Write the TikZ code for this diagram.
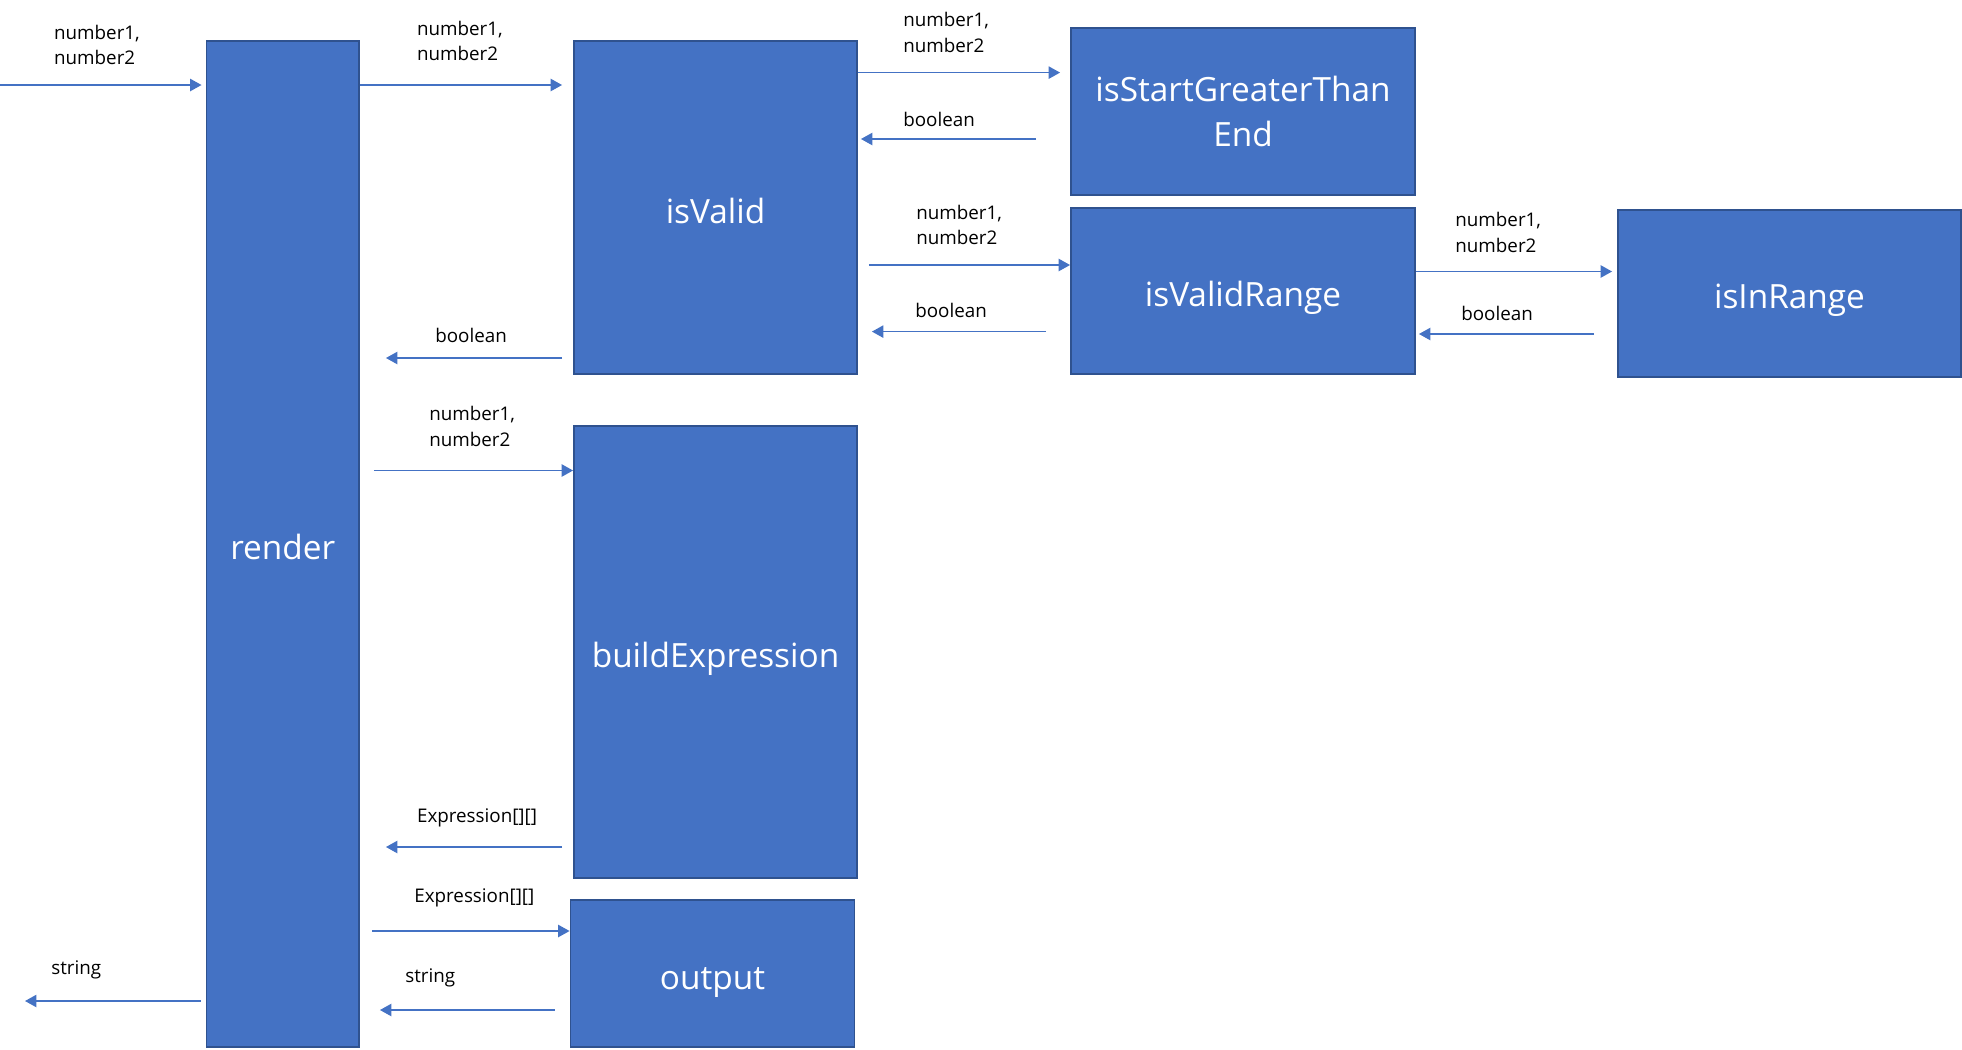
\documentclass[tikz,border=0pt]{standalone}
\usepackage{fontspec}
\setmainfont{Open Sans}
\usetikzlibrary{calc,positioning,arrows.meta}
\definecolor{boxblue}{HTML}{4472C4}
\definecolor{boxedge}{HTML}{2F528F}
\tikzstyle{fn}=[shape=rectangle, draw=boxedge, fill=boxblue, line width=1.1pt, text=white, font=\fontsize{19}{25.6}\selectfont, align=center, inner sep=0pt]
\tikzstyle{fnone}=[fn, text height=17.8pt, text depth=0pt]
\tikzstyle{msg}=[anchor=west, inner sep=0pt, align=left, font=\fontsize{10.7}{14.3}\selectfont]
\tikzstyle{flow}=[draw=boxblue, line width=0.85pt, -{Triangle[length=6.5pt,width=7pt]}]

\begin{document}
\begin{tikzpicture}[x=0.02cm,y=-0.02cm]
\useasboundingbox (0,0) rectangle (1962,1049);
\node (render) [fnone, minimum width=3.05cm, minimum height=20.12cm] at (282.75,544) {render};
\node (isValid) [fnone, minimum width=5.66cm, minimum height=6.66cm] at (715.5,207.5) {isValid};
\node (build) [fnone, minimum width=5.66cm, minimum height=9.05cm] at (715.5,651.75) {buildExpression};
\node (output) [fnone, minimum width=5.68cm, minimum height=2.95cm] at (712.5,973.4) {output};
\node (isStart) [fn, minimum width=6.88cm, minimum height=3.33cm] at (1243,111.5) {isStartGreaterThan\\End};
\node (isRange) [fnone, minimum width=6.88cm, minimum height=3.33cm] at (1243,290.85) {isValidRange};
\node (isIn) [fnone, minimum width=6.86cm, minimum height=3.33cm] at (1789.5,293.3) {isInRange};

\coordinate (src) at (0,85);
\coordinate (sink) at (25,1001);

% calls
\draw[flow, shorten >=0.08cm] (src) -- (render.west |- src);
\draw[flow, shorten >=0.22cm] (render.east |- 0,85) -- (isValid.west |- 0,85);
\draw[flow, shorten >=0.2cm] (isValid.east |- 0,72.6) -- (isStart.west |- 0,72.6);
\draw[flow, shorten <=0.22cm] (isValid.east |- 0,265) -- (isRange.west |- 0,265);
\draw[flow, shorten >=0.1cm] (isRange.east |- 0,271.5) -- (isIn.west |- 0,271.5);
\draw[flow, shorten <=0.28cm] (render.east |- 0,470.5) -- (build.west |- 0,470.5);
\draw[flow, shorten <=0.25cm] (render.east |- 0,931) -- (output.west |- 0,931);

% returns
\draw[flow, shorten <=0.68cm, shorten >=0.06cm] (isStart.west |- 0,139) -- (isValid.east |- 0,139);
\draw[flow, shorten <=0.48cm, shorten >=0.28cm] (isRange.west |- 0,331.6) -- (isValid.east |- 0,331.6);
\draw[flow, shorten <=0.46cm, shorten >=0.06cm] (isIn.west |- 0,334) -- (isRange.east |- 0,334);
\draw[flow, shorten <=0.22cm, shorten >=0.52cm] (isValid.west |- 0,358) -- (render.east |- 0,358);
\draw[flow, shorten <=0.22cm, shorten >=0.52cm] (build.west |- 0,847) -- (render.east |- 0,847);
\draw[flow, shorten <=0.3cm, shorten >=0.4cm] (output.west |- 0,1010) -- (render.east |- 0,1010);
\draw[flow, shorten <=0.1cm] (render.west |- sink) -- (sink);

\node (m1) [msg] at (53.8,45) {number1,\\number2};
\node (m2) [msg] at (416.7,41.3) {number1,\\number2};
\node (m3) [msg] at (903,32.5) {number1,\\number2};
\node (m4) [msg] at (903,119) {boolean};
\node (m5) [msg] at (916,225) {number1,\\number2};
\node (m6) [msg] at (915,310) {boolean};
\node (m7) [msg] at (1455,232.5) {number1,\\number2};
\node (m8) [msg] at (1461,313) {boolean};
\node (m9) [msg] at (435,335) {boolean};
\node (m10) [msg] at (429,426.5) {number1,\\number2};
\node (m11) [msg] at (416.7,818) {Expression[][]};
\node (m12) [msg] at (414,898) {Expression[][]};
\node (m13) [msg] at (405,978) {string};
\node (m14) [msg] at (51,970) {string};
\end{tikzpicture}
\end{document}
